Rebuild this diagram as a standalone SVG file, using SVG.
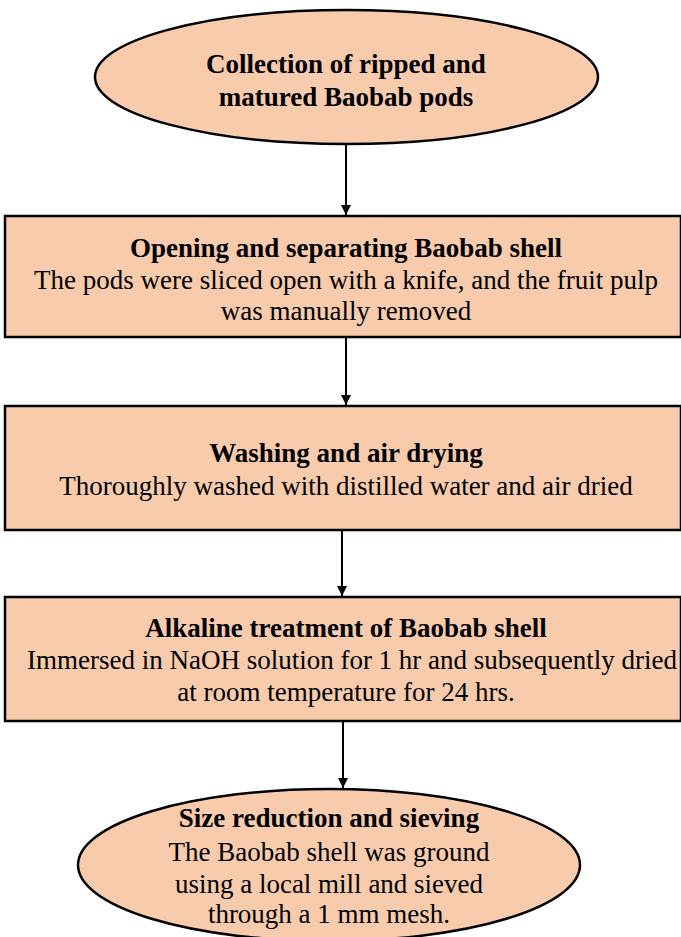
<svg xmlns="http://www.w3.org/2000/svg" width="681" height="937" viewBox="0 0 681 937">
<defs>
<marker id="ah" markerWidth="12" markerHeight="12" refX="10" refY="5" orient="auto" markerUnits="userSpaceOnUse">
<path d="M0,0 L10,5 L0,10 Z" fill="#000"/>
</marker>
<style>
.n{fill:#F8CBAD;stroke:#000;stroke-width:2.5}
.t{font-family:"Liberation Serif","Times New Roman",serif;font-size:27px;fill:#000;text-anchor:middle}
.b{font-weight:bold}
.c{stroke:#000;stroke-width:2;fill:none;marker-end:url(#ah)}
</style>
</defs>
<rect width="681" height="937" fill="#fff"/>
<g id="connectors">
<line class="c" x1="346" y1="144" x2="346" y2="215"/>
<line class="c" x1="346" y1="338" x2="346" y2="405"/>
<line class="c" x1="342" y1="530" x2="342" y2="596"/>
<line class="c" x1="343" y1="721" x2="343" y2="788"/>
</g>
<g id="n1">
<ellipse class="n" cx="346.5" cy="77" rx="251.5" ry="67"/>
<text class="t b" x="346" y="73">Collection of ripped and</text>
<text class="t b" x="346" y="106">matured Baobab pods</text>
</g>
<g id="n2">
<rect class="n" x="5" y="216" width="676" height="121"/>
<text class="t b" x="346" y="257">Opening and separating Baobab shell</text>
<text class="t" x="346" y="289">The pods were sliced open with a knife, and the fruit pulp</text>
<text class="t" x="346" y="320">was manually removed</text>
</g>
<g id="n3">
<rect class="n" x="5" y="406" width="676" height="124"/>
<text class="t b" x="346" y="462">Washing and air drying</text>
<text class="t" x="346" y="495">Thoroughly washed with distilled water and air dried</text>
</g>
<g id="n4">
<rect class="n" x="5" y="597" width="676" height="124"/>
<text class="t b" x="346" y="637">Alkaline treatment of Baobab shell</text>
<text class="t" x="352" y="669">Immersed in NaOH solution for 1 hr and subsequently dried</text>
<text class="t" x="346" y="701">at room temperature for 24 hrs.</text>
</g>
<g id="n5">
<ellipse class="n" cx="329" cy="865" rx="251" ry="76"/>
<text class="t b" x="329" y="827">Size reduction and sieving</text>
<text class="t" x="329" y="861">The Baobab shell was ground</text>
<text class="t" x="329" y="893">using a local mill and sieved</text>
<text class="t" x="329" y="923">through a 1 mm mesh.</text>
</g>
</svg>
